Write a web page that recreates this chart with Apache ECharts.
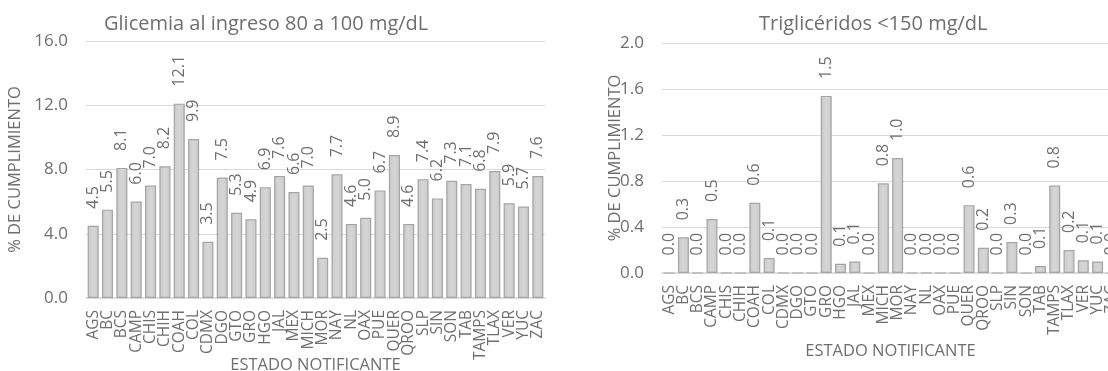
<!DOCTYPE html>
<html>
<head>
<meta charset="utf-8">
<script src="https://cdn.jsdelivr.net/npm/echarts@6/dist/echarts.min.js"></script>
<style>
	html, body { margin: 0; padding: 0; background: #fff; }
	#chart { width: 1108px; height: 371px; }
</style>
</head>
<body>
<div id="chart"></div>
<script>
	// estados
	const estados = ['AGS','BC','BCS','CAMP','CHIS','CHIH','COAH','COL','CDMX','DGO','GTO','GRO','HGO','JAL','MEX','MICH','MOR','NAY','NL','OAX','PUE','QUER','QROO','SLP','SIN','SON','TAB','TAMPS','TLAX','VER','YUC','ZAC'];

	// % de cumplimiento
	const glicemia = [4.5,5.5,8.1,6.0,7.0,8.2,12.1,9.9,3.5,7.5,5.3,4.9,6.9,7.6,6.6,7.0,2.5,7.7,4.6,5.0,6.7,8.9,4.6,7.4,6.2,7.3,7.1,6.8,7.9,5.9,5.7,7.6];
	const trigliceridos = [0.0,0.31,0.0,0.47,0.0,0.0,0.61,0.13,0.0,0.0,0.0,1.54,0.08,0.1,0.0,0.78,1.0,0.0,0.0,0.0,0.0,0.59,0.22,0.0,0.27,0.0,0.06,0.76,0.2,0.11,0.1,0.0];

	const titulos = ['Glicemia al ingreso 80 a 100 mg/dL', 'Triglicéridos <150 mg/dL'];
	const nombreX = 'ESTADO NOTIFICANTE';
	const nombreY = '% DE CUMPLIMIENTO';

	const gris = '#6f6f6f';
	const fuente = 'Open Sans';

	function ejeX(idx, gap) {
		return {
			type: 'category',
			gridIndex: idx,
			data: estados,
			name: nombreX,
			nameLocation: 'middle',
			nameGap: gap,
			nameMoveOverlap: false,
			nameTextStyle: { color: gris, fontSize: 16.5, fontFamily: fuente },
			axisLine: { lineStyle: { color: '#d9d9d9', width: 1.5 } },
			axisTick: { show: false },
			axisLabel: {
				interval: 0,
				rotate: 90,
				margin: 12,
				color: gris,
				fontSize: 15.5,
				fontFamily: fuente
			}
		}
	}

	function ejeY(idx, max, interval, gap) {
		return {
			type: 'value',
			gridIndex: idx,
			min: 0,
			max: max,
			interval: interval,
			name: nombreY,
			nameLocation: 'middle',
			nameGap: gap,
			nameMoveOverlap: false,
			nameTextStyle: { color: gris, fontSize: 16.5, fontFamily: fuente },
			axisLine: { show: false },
			axisTick: { show: false },
			splitLine: { lineStyle: { color: '#d9d9d9', width: 1 } },
			axisLabel: {
				margin: 18,
				color: gris,
				fontSize: 17,
				fontFamily: fuente,
				formatter: v => v.toFixed(1)
			}
		}
	}

	function barras(idx, datos) {
		return {
			type: 'bar',
			xAxisIndex: idx,
			yAxisIndex: idx,
			data: datos,
			barCategoryGap: '23%',
			itemStyle: {
				color: {
					type: 'linear', x: 0, y: 0, x2: 1, y2: 0,
					colorStops: [
						{ offset: 0, color: '#c9c9c9' },
						{ offset: 0.5, color: '#d6d6d6' },
						{ offset: 1, color: '#c9c9c9' }
					]
				},
				borderColor: '#a5a5a5',
				borderWidth: 1.2
			},
			label: {
				show: true,
				position: 'top',
				distance: 17,
				rotate: 90,
				align: 'left',
				verticalAlign: 'middle',
				color: gris,
				fontSize: 16,
				fontFamily: fuente,
				formatter: p => p.value.toFixed(1)
			}
		}
	}

	let mychart = echarts.init(document.getElementById('chart'))
	mychart.setOption({
		animation: false,
		title: [{
			text: titulos[0],
			left: 99,
			top: 9,
			textStyle: { color: gris, fontSize: 20, fontWeight: 'normal', fontFamily: fuente }
		}, {
			text: titulos[1],
			left: 754,
			top: 9,
			textStyle: { color: gris, fontSize: 20, fontWeight: 'normal', fontFamily: fuente }
		}],
		grid: [
			{ left: 86, top: 41, width: 459, height: 257, outerBoundsMode: 'none', containLabel: false },
			{ left: 662, top: 43, width: 457, height: 230, outerBoundsMode: 'none', containLabel: false }
		],
		xAxis: [ejeX(0, 59), ejeX(1, 70)],
		yAxis: [ejeY(0, 16, 4, 62), ejeY(1, 2, 0.4, 38)],
		series: [barras(0, glicemia), barras(1, trigliceridos)]
	})
</script>
</body>
</html>
